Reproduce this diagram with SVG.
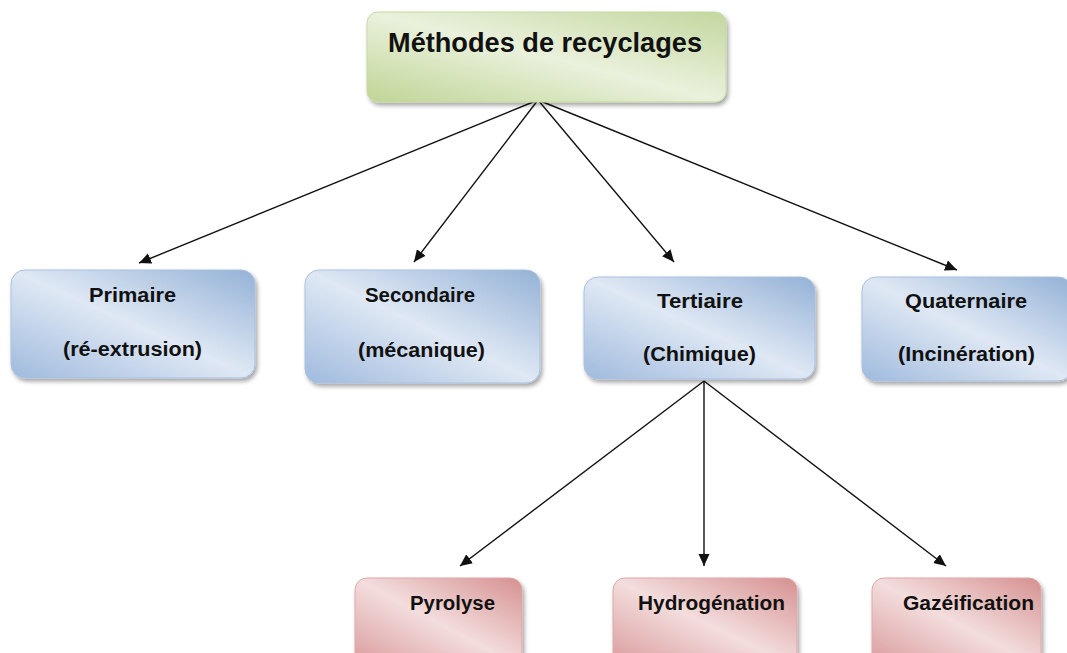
<svg xmlns="http://www.w3.org/2000/svg" width="1067" height="653" viewBox="0 0 1067 653">
<style>
  text { font-family: "Liberation Sans", Arial, sans-serif; font-weight: bold; fill: #111; }
  .title { font-size: 28px; }
  .lbl { font-size: 19.5px; }
  .conn line { stroke: #111; stroke-width: 1.4; marker-end: url(#arr); }
  .blue { fill: url(#gBlue); stroke: #a9c1df; stroke-width: 1; }
  .pink { fill: url(#gPink); stroke: #dfa9a8; stroke-width: 1; }
  .green { fill: url(#gGreen); stroke: #c7d9a4; stroke-width: 1; }
</style>
<defs>
  <linearGradient id="gBlue" x1="0" y1="1" x2="1" y2="0">
    <stop offset="0" stop-color="#9fbadd"/>
    <stop offset="0.5" stop-color="#dfe8f4"/>
    <stop offset="1" stop-color="#93b1d6"/>
  </linearGradient>
  <linearGradient id="gPink" x1="0" y1="1" x2="1" y2="0">
    <stop offset="0" stop-color="#d9999a"/>
    <stop offset="0.5" stop-color="#f3dddd"/>
    <stop offset="1" stop-color="#d69090"/>
  </linearGradient>
  <linearGradient id="gGreen" x1="0" y1="1" x2="1" y2="0">
    <stop offset="0" stop-color="#bfd596"/>
    <stop offset="0.5" stop-color="#eaf1dc"/>
    <stop offset="1" stop-color="#c3d79e"/>
  </linearGradient>
  <filter id="sh" x="-10%" y="-10%" width="125%" height="135%">
    <feDropShadow dx="2" dy="3" stdDeviation="2" flood-color="#000" flood-opacity="0.35"/>
  </filter>
  <marker id="arr" viewBox="0 0 12 12" refX="12" refY="6" markerWidth="12" markerHeight="12" markerUnits="userSpaceOnUse" orient="auto">
    <path d="M0,0.5 L12,6 L0,11.5 z" fill="#111"/>
  </marker>
</defs>
<rect width="1067" height="653" fill="#fff"/>

<g id="conns" class="conn">
  <line x1="538" y1="100" x2="139" y2="263"/>
  <line x1="538" y1="100" x2="414" y2="262"/>
  <line x1="538" y1="100" x2="674" y2="262"/>
  <line x1="538" y1="100" x2="957" y2="270"/>
  <line x1="704" y1="381" x2="460" y2="566"/>
  <line x1="704" y1="381" x2="704" y2="566"/>
  <line x1="704" y1="381" x2="946" y2="566"/>
</g>

<g id="n-methodes">
  <rect class="green" x="367" y="12" width="359" height="90" rx="11" filter="url(#sh)"/>
  <text class="title" x="388" y="52" textLength="314" lengthAdjust="spacingAndGlyphs">Méthodes de recyclages</text>
</g>

<g id="n-primaire">
  <rect class="blue" x="11" y="270" width="244" height="108" rx="14" filter="url(#sh)"/>
  <text class="lbl" x="89" y="302" textLength="87" lengthAdjust="spacingAndGlyphs">Primaire</text>
  <text class="lbl" x="63" y="356" textLength="139" lengthAdjust="spacingAndGlyphs">(ré-extrusion)</text>
</g>

<g id="n-secondaire">
  <rect class="blue" x="305" y="270" width="235" height="113" rx="14" filter="url(#sh)"/>
  <text class="lbl" x="365" y="302" textLength="110" lengthAdjust="spacingAndGlyphs">Secondaire</text>
  <text class="lbl" x="358" y="357" textLength="127" lengthAdjust="spacingAndGlyphs">(mécanique)</text>
</g>

<g id="n-tertiaire">
  <rect class="blue" x="584" y="277" width="231" height="102" rx="14" filter="url(#sh)"/>
  <text class="lbl" x="657" y="308" textLength="86" lengthAdjust="spacingAndGlyphs">Tertiaire</text>
  <text class="lbl" x="643" y="361" textLength="113" lengthAdjust="spacingAndGlyphs">(Chimique)</text>
</g>

<g id="n-quaternaire">
  <rect class="blue" x="862" y="277" width="210" height="104" rx="14" filter="url(#sh)"/>
  <text class="lbl" x="905" y="308" textLength="122" lengthAdjust="spacingAndGlyphs">Quaternaire</text>
  <text class="lbl" x="898" y="361" textLength="137" lengthAdjust="spacingAndGlyphs">(Incinération)</text>
</g>

<g id="n-pyrolyse">
  <rect class="pink" x="355" y="578" width="167" height="90" rx="12" filter="url(#sh)"/>
  <text class="lbl" x="410" y="610" textLength="85" lengthAdjust="spacingAndGlyphs">Pyrolyse</text>
</g>

<g id="n-hydrogenation">
  <rect class="pink" x="613" y="578" width="184" height="90" rx="12" filter="url(#sh)"/>
  <text class="lbl" x="638" y="610" textLength="147" lengthAdjust="spacingAndGlyphs">Hydrogénation</text>
</g>

<g id="n-gazeification">
  <rect class="pink" x="872" y="578" width="169" height="90" rx="12" filter="url(#sh)"/>
  <text class="lbl" x="903" y="610" textLength="131" lengthAdjust="spacingAndGlyphs">Gazéification</text>
</g>
</svg>
